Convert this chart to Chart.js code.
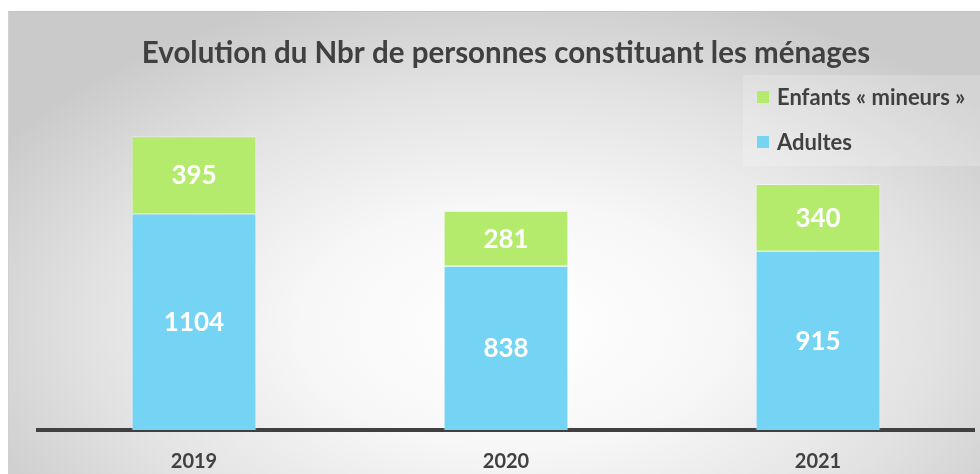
<!DOCTYPE html>
<html>
<head>
<meta charset="utf-8">
<script src="https://cdn.jsdelivr.net/npm/chart.js@4"></script>
<style>
  html, body { margin: 0; padding: 0; background: #fff; }
  #wrap { position: relative; width: 980px; height: 474px; overflow: hidden; }
  #panel {
    position: absolute; left: 8px; top: 11px; right: 0; bottom: 0;
    border-top: 1px solid #c4c4c4; border-left: 1px solid #d0d0d0;
    background: radial-gradient(ellipse 62% 75% at 52% 68%, #ffffff 0%, #f7f7f7 35%, #e2e2e2 70%, #cacaca 100%);
  }
  #legendbg {
    position: absolute; left: 743px; top: 75px; width: 237px; height: 91px;
    background: rgba(255,255,255,0.2);
  }
  canvas { position: absolute; left: 0; top: 0; }
</style>
</head>
<body>
<div id="wrap">
  <div id="panel"></div>
  <div id="legendbg"></div>
  <canvas id="myChart" width="980" height="474"></canvas>
</div>
<script>
const annees = ['2019', '2020', '2021'];
const adultes = [1104, 838, 915];
const enfants = [395, 281, 340];

const bleu = '#75D3F3';
const vert = '#B4EB6C';
const gris = '#404040';
const police = 'Lato, "Open Sans", sans-serif';

// valeurs blanches au centre de chaque segment
const etiquettes = {
  id: 'etiquettes',
  afterDatasetsDraw(chart) {
    const ctx = chart.ctx;
    ctx.save();
    ctx.fillStyle = '#ffffff';
    ctx.font = 'bold 26px ' + police;
    ctx.textAlign = 'center';
    ctx.textBaseline = 'middle';
    chart.data.datasets.forEach((ds, i) => {
      chart.getDatasetMeta(i).data.forEach((bar, j) => {
        const p = bar.getCenterPoint();
        ctx.fillText(ds.data[j], p.x, p.y + 1);
      });
    });
    ctx.restore();
  }
};

// légende en haut à droite, enfants d'abord
const legende = {
  id: 'legende',
  afterDraw(chart) {
    const ctx = chart.ctx;
    ctx.save();
    ctx.font = 'bold 22px ' + police;
    ctx.textBaseline = 'middle';
    const items = chart.data.datasets.slice().reverse();
    items.forEach((ds, k) => {
      const y = 97 + k * 45;
      ctx.fillStyle = ds.backgroundColor;
      ctx.fillRect(757, y - 6, 12, 12);
      ctx.fillStyle = gris;
      ctx.fillText(ds.label, 777, y + 1);
    });
    ctx.restore();
  }
};

const ctx = document.getElementById('myChart');
new Chart(ctx, {
  type: 'bar',
  data: {
    labels: annees,
    datasets: [
      { label: 'Adultes', data: adultes, backgroundColor: bleu, borderColor: 'rgba(255,255,255,0.45)', borderWidth: 1 },
      { label: 'Enfants « mineurs »', data: enfants, backgroundColor: vert, borderColor: 'rgba(255,255,255,0.45)', borderWidth: 1 }
    ]
  },
  options: {
    responsive: false,
    animation: false,
    layout: { padding: { left: 38, right: 6, top: 0, bottom: 0 } },
    datasets: { bar: { categoryPercentage: 1, barPercentage: 0.4 } },
    plugins: {
      legend: { display: false },
      tooltip: { enabled: false },
      title: {
        display: true,
        text: 'Evolution du Nbr de personnes constituant les ménages',
        color: gris,
        font: { family: police, size: 29.5, weight: 'bold' },
        padding: { top: 36, bottom: 45 }
      }
    },
    scales: {
      x: {
        stacked: true,
        grid: { display: false, tickLength: 20 },
        border: { display: true, color: gris, width: 4 },
        ticks: { color: gris, font: { family: police, size: 20, weight: 'bold' }, padding: 0 }
      },
      y: {
        stacked: true,
        display: false,
        min: 0,
        max: 1600
      }
    }
  },
  plugins: [etiquettes, legende]
});
</script>
</body>
</html>
